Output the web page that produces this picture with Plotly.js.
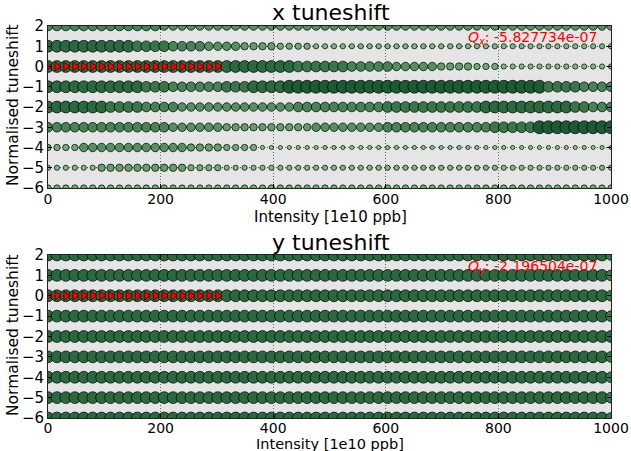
<!DOCTYPE html>
<html>
<head>
<meta charset="utf-8">
<script src="https://cdn.plot.ly/plotly-3.0.1.min.js"></script>
<style>
  html, body { margin: 0; padding: 0; background: #ffffff; }
  #chart { width: 631px; height: 451px; }
</style>
</head>
<body>
<div id="chart"></div>
<script>
// Beam intensity scan [1e10 ppb]
const intensity = [
  0, 15.9, 31.7, 47.6, 63.5, 79.4, 95.2, 111.1, 127.0, 142.9,
  158.7, 174.6, 190.5, 206.3, 222.2, 238.1, 254.0, 269.8, 285.7, 301.6,
  317.5, 333.3, 349.2, 365.1, 381.0, 396.8, 412.7, 428.6, 444.4, 460.3,
  476.2, 492.1, 507.9, 523.8, 539.7, 555.6, 571.4, 587.3, 603.2, 619.0,
  634.9, 650.8, 666.7, 682.5, 698.4, 714.3, 730.2, 746.0, 761.9, 777.8,
  793.7, 809.5, 825.4, 841.3, 857.1, 873.0, 888.9, 904.8, 920.6, 936.5,
  952.4, 968.3, 984.1, 1000
];

// Normalised tuneshift of each azimuthal mode
const modes = [2, 1, 0, -1, -2, -3, -4, -5, -6];

// Mode amplitude levels (0-9) per intensity step, one string per mode
const xAmplitude = [
  "66666666 66666555 55555555 55555555 55555555 55555555 55555555 55555555",
  "88888888 88777766 66555544 44333322 22222222 22222222 22222222 22222222",
  "88888888 88888888 88888888 88887777 77666665 55554444 33322222 22222222",
  "88888888 88877766 66667778 88899999 99999999 99999999 99999999 77776666",
  "88888887 77766665 55555555 55556666 66666677 77777777 78888888 88877666",
  "66666666 66666655 55554444 44444455 55555566 66666666 66777779 99999999",
  "33335555 55555555 44443333 11111111 11111111 11111111 11111111 11111111",
  "22222244 44444444 33332222 22222222 22222222 22222222 22222222 22222222",
  "33333333 33333333 33333333 33333333 33333333 33333333 33333333 33333333"
];
const yAmplitude = [
  "88888888 88888888 88888888 88888888 88888888 88888888 88888888 88888887",
  "88888888 88888888 88888888 88888888 88888888 88888888 88888888 88888887",
  "88888888 88888888 88888888 88888888 88888888 88888888 88888888 88888887",
  "88888888 88888888 88888888 88888888 88888888 88888888 88888888 88888887",
  "88888888 88888888 88888888 88888888 88888888 88888888 88888888 88888888",
  "88888888 88888888 88888888 88888888 88888888 88888888 88888888 88888887",
  "88888888 88888888 88888888 88888888 88888888 88888888 88888888 88888887",
  "88888888 88888888 88888888 88888888 88888888 88888888 88888888 88888887",
  "88888888 88888888 88888888 88888888 88888888 88888888 88888888 88888887"
];

// Most unstable mode tracked below threshold
const unstableIntensity = [
  0, 15.9, 31.7, 47.6, 63.5, 79.4, 95.2, 111.1, 127.0, 142.9,
  158.7, 174.6, 190.5, 206.3, 222.2, 238.1, 254.0, 269.8, 285.7, 301.6
];
const unstableShiftX = [0,0,0,0,0,0,0,0,0,0,0,0,0,0,0,0,0,0,0,0];
const unstableShiftY = [0,0,0,0,0,0,0,0,0,0,0,0,0,0,0,0,0,0,0,0];

const qShiftX = "-5.827734e-07";
const qShiftY = "-2.196504e-07";

const FONT = "DejaVu Sans, Liberation Sans, sans-serif";

function parseLevels(s) {
  return s.replace(/\s+/g, "").split("").map(Number);
}
function levelColor(l) {
  const t = Math.min(Math.max((l - 1) / 8, 0), 1);
  const light = [140, 200, 140], dark = [28, 90, 52];
  const c = light.map((v, k) => Math.round(v + (dark[k] - v) * t));
  return "rgb(" + c.join(",") + ")";
}
function levelSize(l) {
  return 3 + 1.1 * l;
}

function modeTraces(amplitudes, xa, ya) {
  return modes.map((m, r) => {
    const lv = parseLevels(amplitudes[r]);
    return {
      type: "scatter",
      mode: "lines+markers",
      x: intensity,
      y: intensity.map(() => m),
      xaxis: xa, yaxis: ya,
      line: { color: "rgba(70,105,55,0.9)", width: 1, dash: "1px,2px" },
      marker: {
        symbol: "circle",
        opacity: 1,
        size: lv.map(levelSize),
        color: lv.map(levelColor),
        line: { color: "rgba(0,0,0,0.7)", width: 1 }
      },
      hoverinfo: "skip",
      showlegend: false
    };
  });
}

function unstableTrace(shift, xa, ya) {
  return {
    type: "scatter",
    mode: "lines+markers",
    x: unstableIntensity,
    y: shift,
    xaxis: xa, yaxis: ya,
    line: { color: "#ff0000", width: 1.2 },
    marker: { symbol: "triangle-right", size: 8, color: "#ff0000", opacity: 1,
              line: { color: "rgba(60,0,0,0.8)", width: 1 } },
    hoverinfo: "skip",
    showlegend: false
  };
}

const data = []
  .concat(modeTraces(xAmplitude, "x", "y"))
  .concat([unstableTrace(unstableShiftX, "x", "y")])
  .concat(modeTraces(yAmplitude, "x2", "y2"))
  .concat([unstableTrace(unstableShiftY, "x2", "y2")]);

const W = 631, H = 451;
const px = v => v / W;
const py = v => 1 - v / H;

function xAxis(anchor, standoff) {
  return {
    anchor: anchor,
    domain: [px(48), px(611)],
    range: [0, 1000],
    tickvals: [0, 200, 400, 600, 800, 1000],
    ticks: "inside", ticklen: 4, tickcolor: "#000",
    ticklabelstandoff: standoff,
    mirror: "allticks", showline: true, linecolor: "#222", linewidth: 1,
    showgrid: true, gridcolor: "#5f7048", griddash: "1px,2px", gridwidth: 1,
    zeroline: false,
    tickfont: { family: FONT, size: 14, color: "#000" },
    fixedrange: true
  };
}
function yAxis(anchor, top, bottom) {
  return {
    anchor: anchor,
    domain: [py(bottom), py(top)],
    range: [-6, 2],
    tickvals: [-6, -5, -4, -3, -2, -1, 0, 1, 2],
    ticks: "inside", ticklen: 4, tickcolor: "#000",
    mirror: "allticks", showline: true, linecolor: "#222", linewidth: 1,
    showgrid: true, gridcolor: "#5f7048", griddash: "1px,2px", gridwidth: 1,
    zeroline: false,
    tickfont: { family: FONT, size: 15, color: "#000" },
    fixedrange: true
  };
}

function label(text, x, y, size, angle) {
  return {
    xref: "paper", yref: "paper", x: x, y: y,
    xanchor: "center", yanchor: "middle",
    text: text, showarrow: false, textangle: angle || 0,
    font: { family: FONT, size: size, color: "#000" }
  };
}

const layout = {
  width: W, height: H,
  margin: { l: 0, r: 0, t: 0, b: 0 },
  paper_bgcolor: "#ffffff",
  plot_bgcolor: "#e5e5e5",
  showlegend: false,
  xaxis: xAxis("y", -2),
  yaxis: yAxis("x", 26, 188),
  xaxis2: xAxis("y2", -3),
  yaxis2: yAxis("x2", 255, 418),
  annotations: [
    label("x tuneshift", px(331), py(13), 22),
    label("y tuneshift", px(331), py(242), 22),
    label("Intensity [1e10 ppb]", px(330), py(217), 15),
    label("Intensity [1e10 ppb]", px(330), py(444), 14.5),
    label("Normalised tuneshift", px(13), py(105), 15.5, -90),
    label("Normalised tuneshift", px(13), py(335), 15.5, -90),
    {
      xref: "x", yref: "y", x: 978, y: 1.42, xanchor: "right", yanchor: "middle",
      text: "<i>Q<sub>x</sub></i>: " + qShiftX, showarrow: false,
      font: { family: FONT, size: 14, color: "#ff0000" }
    },
    {
      xref: "x2", yref: "y2", x: 978, y: 1.42, xanchor: "right", yanchor: "middle",
      text: "<i>Q<sub>y</sub></i>: " + qShiftY, showarrow: false,
      font: { family: FONT, size: 14, color: "#ff0000" }
    }
  ]
};

Plotly.newPlot("chart", data, layout, { staticPlot: true, displayModeBar: false });
</script>
</body>
</html>
